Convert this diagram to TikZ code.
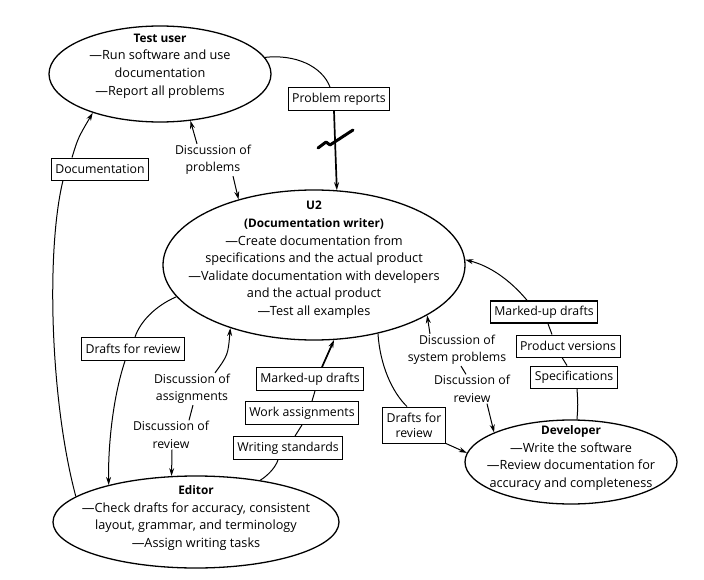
\documentclass[tikz,border=0pt]{standalone}
\usepackage{fontspec}
\setmainfont{Open Sans}
\usetikzlibrary{shapes.geometric,arrows.meta}
\newcommand{\ttl}[1]{{\fontsize{11.8}{17.6}\selectfont\textbf{#1}}}
\begin{document}
\begin{tikzpicture}[x=1pt,y=-1pt,
  ell/.style={draw,ellipse,line width=1.3pt,inner sep=0pt},
  txt/.style={align=center,inner sep=1pt,font=\fontsize{12.7}{17.6}\selectfont},
  lbl/.style={align=center,inner sep=1pt,font=\fontsize{12.3}{17.4}\selectfont},
  bx/.style={draw,line width=0.9pt,inner xsep=4pt,inner ysep=0pt,minimum height=23pt,font=\fontsize{12.3}{14}\selectfont},
  ln/.style={line width=1pt},
  arr/.style={-{Stealth[length=8pt,width=5pt]}},
  thk/.style={line width=1.7pt}
]
\useasboundingbox (0,0) rectangle (704,580);
% ellipses
\node[ell,minimum width=222pt,minimum height=96pt] (tu) at (160,74) {};
\node[txt] (tut) at (160,66) {\ttl{Test user}\\—Run software and use\\documentation\\—Report all problems};
\node[ell,minimum width=302pt,minimum height=150pt] (u2) at (314,265) {};
\node[txt] (u2t) at (314,260) {\ttl{U2}\\\ttl{(Documentation writer)}\\—Create documentation from\\specifications and the actual product\\—Validate documentation with developers\\and the actual product\\—Test all examples};
\node[ell,minimum width=286pt,minimum height=92pt] (ed) at (196,522) {};
\node[txt] (edt) at (196,518) {\ttl{Editor}\\—Check drafts for accuracy, consistent\\layout, grammar, and terminology\\—Assign writing tasks};
\node[ell,minimum width=212pt,minimum height=84pt] (dev) at (571,462) {};
\node[txt] (devt) at (571,458) {\ttl{Developer}\\—Write the software\\—Review documentation for\\accuracy and completeness};
% boxes
\node[bx] (pr) at (339,99) {Problem reports};
\node[bx,minimum height=22pt] (doc) at (100,169) {Documentation};
\node[bx] (dl) at (133,349) {Drafts for review};
\node[bx] (ws) at (288,448) {Writing standards};
\node[bx] (wa) at (302,413) {Work assignments};
\node[bx] (mc) at (310,379) {Marked-up drafts};
\node[bx,align=center,minimum height=36pt,font=\fontsize{12.3}{15}\selectfont] (dr) at (414,425) {Drafts for\\review};
\node[bx,minimum height=22pt] (sp) at (574,377) {Specifications};
\node[bx,minimum height=22pt] (pv) at (568,346) {Product versions};
\node[bx,minimum height=22pt,line width=1.5pt] (mr) at (544,312) {Marked-up drafts};
% labels
\node[lbl] (dp) at (213,160) {Discussion of\\problems};
\node[lbl] (da) at (192,389) {Discussion of\\assignments};
\node[lbl] (drl) at (171,435) {Discussion of\\review};
\node[lbl] (ds) at (457,350) {Discussion of\\system problems};
\node[lbl] (drr) at (472,389) {Discussion of\\review};
% connectors: test user -> U2
\draw[ln] (tu.9) .. controls (295,54) and (322,66) .. ([xshift=-9pt]pr.north);
\draw[thk,arr] ([xshift=-5pt]pr.south) .. controls (335,140) .. (u2.73);
\draw[line width=3pt,line join=round,line cap=round] (318,148) -- (326,142) -- (330,145) -- (353,130);
% editor -> test user
\draw[ln] (ed.168) .. controls (50,400) and (46,250) .. ([xshift=-37pt]doc.south);
\draw[ln,arr] ([xshift=-28pt]doc.north) .. controls (78,138) .. (tu.210);
% U2 -> editor
\draw[ln] (u2.193) .. controls (155,306) and (140,322) .. ([xshift=2pt]dl.north);
\draw[ln,arr] ([xshift=-8pt]dl.south) .. controls (112,400) and (108,450) .. (ed.157);
% editor -> U2
\draw[ln] (ed.33) .. controls (270,474) and (276,466) .. ([xshift=-10pt]ws.south);
\draw[ln] ([xshift=7pt]ws.north) -- (wa.south);
\draw[ln] ([xshift=10pt]wa.north) -- ([xshift=5pt]mc.south);
\draw[thk,arr] ([xshift=12pt]mc.north) -- (u2.285);
% U2 -> developer
\draw[ln] (u2.313) .. controls (380,365) and (392,392) .. ([xshift=-7pt]dr.north);
\draw[ln,arr] (dr.south east) -- (dev.175);
% developer -> U2
\draw[ln] (dev.82) .. controls (578,405) .. ([xshift=3pt]sp.south);
\draw[ln] ([xshift=-7pt]sp.north) -- ([xshift=-6pt]pv.south);
\draw[ln] ([xshift=-16pt]pv.north) -- ([xshift=4pt]mr.south);
\draw[ln,arr] ([xshift=-17pt]mr.north) .. controls (510,280) and (490,266) .. (u2.2);
% discussion arrows
\draw[ln,arr] ([xshift=-16pt]dp.north) -- (tu.303);
\draw[ln,arr] ([xshift=20pt]dp.south) -- (u2.139);
\draw[ln,arr] ([xshift=23pt]da.north) .. controls (228,355) .. (u2.217);
\draw[ln] ([xshift=1pt]da.south) -- ([xshift=18pt]drl.north);
\draw[ln,arr] ([xshift=1pt]drl.south) -- (ed.118);
\draw[ln,arr] ([xshift=-27pt]ds.north) -- (u2.336);
\draw[ln] ([xshift=4pt]ds.south) -- ([xshift=-6pt]drr.north);
\draw[ln,arr] ([xshift=15pt]drr.south) -- (dev.159);
\end{tikzpicture}
\end{document}
